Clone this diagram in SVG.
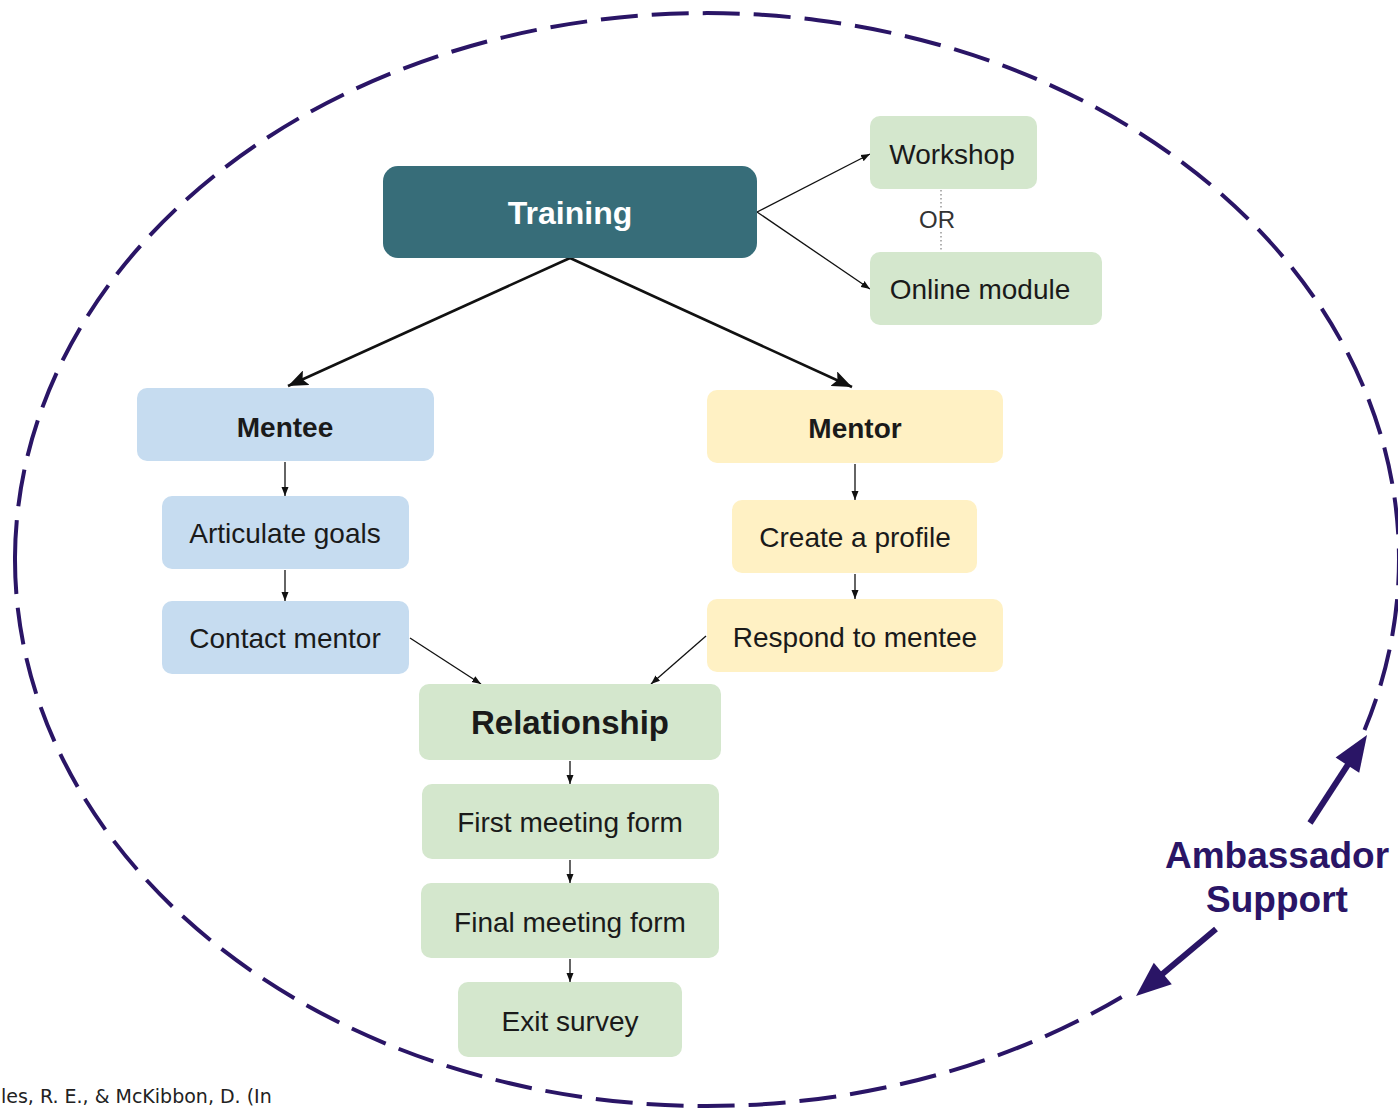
<svg xmlns="http://www.w3.org/2000/svg" width="1398" height="1109" viewBox="0 0 1398 1109">
<style>
.t{font-family:"Liberation Sans",Arial,sans-serif;fill:#1a1a1a;text-anchor:middle}
.r{font-size:28px}
.b{font-size:28px;font-weight:bold}
.green{fill:#d4e7cd}
.blue{fill:#c6dcf0}
.yellow{fill:#fff1c4}
.thin{stroke:#111;stroke-width:1.3;fill:none}
.thick{stroke:#111;stroke-width:2.6;fill:none}
.loop{fill:none;stroke:#2a1566;stroke-width:4;stroke-dasharray:37 14}
</style>
<defs>
<marker id="sa" markerUnits="userSpaceOnUse" markerWidth="10" markerHeight="8" refX="9" refY="4" orient="auto">
<path d="M0,0.5 L9,4 L0,7.5 z" fill="#111"/>
</marker>
<marker id="ba" markerUnits="userSpaceOnUse" markerWidth="22" markerHeight="16" refX="20" refY="8" orient="auto">
<path d="M0,0 L20,8 L0,16 L4,8 z" fill="#111"/>
</marker>
</defs>

<g id="ambassador-loop">
<path class="loop" d="M15,557 A692,546.5 0 1 1 1364.5,730"/>
<path class="loop" d="M15,557 A692,546.5 0 0 0 1121.7,997"/>
</g>

<g id="connectors">
<line class="thick" x1="570" y1="258" x2="288" y2="386" marker-end="url(#ba)"/>
<line class="thick" x1="570" y1="258" x2="852" y2="387" marker-end="url(#ba)"/>
<line class="thin" x1="757" y1="212" x2="870" y2="154" marker-end="url(#sa)"/>
<line class="thin" x1="757" y1="212" x2="870" y2="289" marker-end="url(#sa)"/>
<line x1="941" y1="190" x2="941" y2="209" stroke="#888" stroke-width="1.3" stroke-dasharray="1.5 2.5"/>
<line x1="941" y1="232" x2="941" y2="250" stroke="#888" stroke-width="1.3" stroke-dasharray="1.5 2.5"/>
<line class="thin" x1="285" y1="462" x2="285" y2="496" marker-end="url(#sa)"/>
<line class="thin" x1="285" y1="570" x2="285" y2="601" marker-end="url(#sa)"/>
<line class="thin" x1="855" y1="464" x2="855" y2="500" marker-end="url(#sa)"/>
<line class="thin" x1="855" y1="574" x2="855" y2="599" marker-end="url(#sa)"/>
<line class="thin" x1="410" y1="638" x2="481" y2="684" marker-end="url(#sa)"/>
<line class="thin" x1="706" y1="636" x2="651" y2="684" marker-end="url(#sa)"/>
<line class="thin" x1="570" y1="761" x2="570" y2="784" marker-end="url(#sa)"/>
<line class="thin" x1="570" y1="860" x2="570" y2="883" marker-end="url(#sa)"/>
<line class="thin" x1="570" y1="959" x2="570" y2="982" marker-end="url(#sa)"/>
<line x1="1310" y1="823" x2="1349" y2="763" stroke="#2a1566" stroke-width="6"/>
<polygon points="1367,735 1359.2,772.8 1335.6,757.6" fill="#2a1566"/>
<line x1="1216" y1="929" x2="1160" y2="976" stroke="#2a1566" stroke-width="6"/>
<polygon points="1136,996 1171.8,984.2 1153.8,962.8" fill="#2a1566"/>
</g>

<g id="training">
<rect x="383" y="166" width="374" height="92" rx="15" fill="#376d79"/>
<text class="t" x="570" y="224" font-size="32" font-weight="bold" style="fill:#ffffff">Training</text>
</g>
<g id="workshop">
<rect class="green" x="870" y="116" width="167" height="73" rx="10"/>
<text class="t r" x="952" y="164">Workshop</text>
</g>
<g id="or-label">
<text class="t" x="937" y="228" font-size="24" style="fill:#333">OR</text>
</g>
<g id="online-module">
<rect class="green" x="870" y="252" width="232" height="73" rx="10"/>
<text class="t r" x="980" y="299">Online module</text>
</g>
<g id="mentee">
<rect class="blue" x="137" y="388" width="297" height="73" rx="10"/>
<text class="t b" x="285" y="437">Mentee</text>
</g>
<g id="articulate-goals">
<rect class="blue" x="162" y="496" width="247" height="73" rx="10"/>
<text class="t r" x="285" y="543">Articulate goals</text>
</g>
<g id="contact-mentor">
<rect class="blue" x="162" y="601" width="247" height="73" rx="10"/>
<text class="t r" x="285" y="648">Contact mentor</text>
</g>
<g id="mentor">
<rect class="yellow" x="707" y="390" width="296" height="73" rx="10"/>
<text class="t b" x="855" y="438">Mentor</text>
</g>
<g id="create-profile">
<rect class="yellow" x="732" y="500" width="245" height="73" rx="10"/>
<text class="t r" x="855" y="547">Create a profile</text>
</g>
<g id="respond-mentee">
<rect class="yellow" x="707" y="599" width="296" height="73" rx="10"/>
<text class="t r" x="855" y="647">Respond to mentee</text>
</g>
<g id="relationship">
<rect class="green" x="419" y="684" width="302" height="76" rx="10"/>
<text class="t" x="570" y="734" font-size="33" font-weight="bold">Relationship</text>
</g>
<g id="first-meeting">
<rect class="green" x="422" y="784" width="297" height="75" rx="10"/>
<text class="t r" x="570" y="832">First meeting form</text>
</g>
<g id="final-meeting">
<rect class="green" x="421" y="883" width="298" height="75" rx="10"/>
<text class="t r" x="570" y="932">Final meeting form</text>
</g>
<g id="exit-survey">
<rect class="green" x="458" y="982" width="224" height="75" rx="10"/>
<text class="t r" x="570" y="1031">Exit survey</text>
</g>
<g id="ambassador-label">
<text class="t" x="1277" y="868" font-size="37" font-weight="bold" style="fill:#2a1566">Ambassador</text>
<text class="t" x="1277" y="912" font-size="37" font-weight="bold" style="fill:#2a1566">Support</text>
</g>
<text x="1" y="1103" font-family="'DejaVu Sans',Verdana,sans-serif" font-size="19" fill="#222">les, R. E., &amp; McKibbon, D. (In</text>
</svg>
